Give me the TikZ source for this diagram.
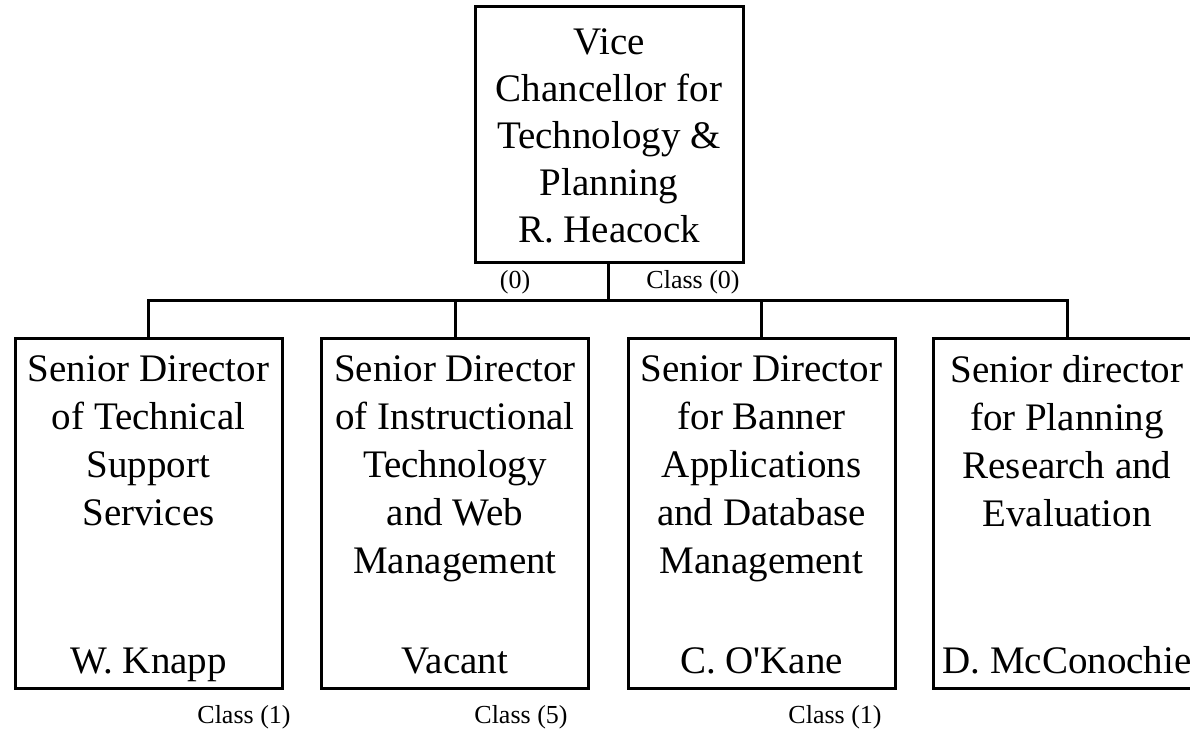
\documentclass[tikz,border=0pt]{standalone}
\usepackage{fontspec}
\setmainfont{Liberation Serif}
\newfontfamily\plainserif{Liberation Serif}
\begin{document}
\begin{tikzpicture}[x=1pt,y=-1pt,
  box/.style={draw, line width=3pt, minimum width=267pt, minimum height=350pt, inner sep=0pt},
  topbox/.style={draw, line width=3pt, minimum width=268pt, minimum height=255pt, inner sep=0pt},
  title/.style={font=\fontsize{39}{48}\selectfont, align=center, inner sep=0pt, anchor=north},
  toptitle/.style={font=\fontsize{39}{47}\selectfont, align=center, inner sep=0pt, anchor=north},
  who/.style={font=\fontsize{39}{47}\selectfont, inner sep=0pt, anchor=base},
  cls/.style={font=\fontsize{26}{30}\selectfont, inner sep=0pt},
  link/.style={line width=3pt}]
\useasboundingbox (0,0) rectangle (1190,730);

\node[topbox] (vc) at (609,134.5) {};
\node[toptitle] (vct) at (609,28) {Vice\\Chancellor for\\Technology \&\\Planning\\R. Heacock};

\node[box] (b1) at (148.5,513) {};
\node[box] (b2) at (455,513) {};
\node[box] (b3) at (761.5,513) {};
\node[box] (b4) at (1067,513) {};

\node[title] (t1) at (148.5,355) {Senior Director\\of Technical\\Support\\Services};
\node[title] (t2) at (455,355) {Senior Director\\of Instructional\\Technology\\and Web\\Management};
\node[title] (t3) at (761.5,355) {Senior Director\\for Banner\\Applications\\and Database\\Management};
\node[title] (t4) at (1067,355) {Senior director\\for Planning\\Research and\\Evaluation};

\node[who] (n1) at (148.5,673) {W. Knapp};
\node[who] (n2) at (455,673) {Vacant};
\node[who] (n3) at (761.5,673) {\plainserif C. O'Kane};
\node[who] (n4) at (1067,673) {D. McConochie};

\coordinate (bus) at (608,300);
\draw[link] (vc.south -| bus) -- (bus);
\draw[link] (b1.north) |- (bus) -| (b4.north);
\draw[link] (b2.north) -- (b2.north |- bus);
\draw[link] (b3.north) -- (b3.north |- bus);

\node[cls] (c0a) at (515,282) {(0)};
\node[cls] (c0b) at (693,282) {Class (0)};
\node[cls] (c1) at (244,717) {Class (1)};
\node[cls] (c2) at (521,717) {Class (5)};
\node[cls] (c3) at (835,717) {Class (1)};
\end{tikzpicture}
\end{document}
